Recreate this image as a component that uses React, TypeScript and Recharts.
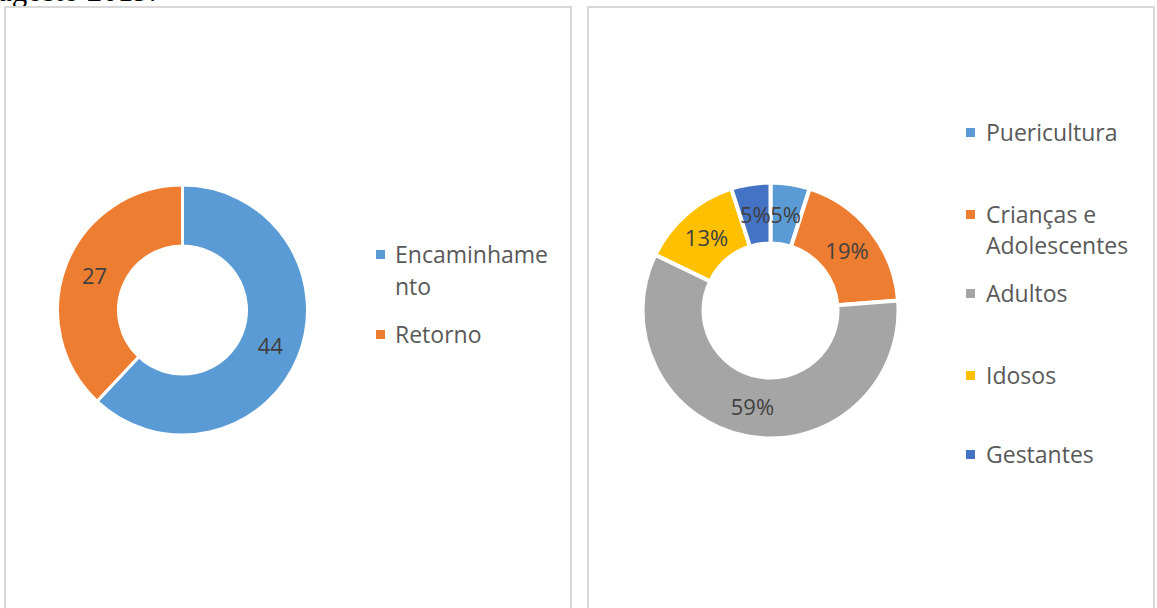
import React from 'react';
import { PieChart, Pie, Cell, Legend } from 'recharts';

// left chart: atendimentos
const tipoNames = ['Encaminhamento', 'Retorno'];
const tipoValues = [44, 27];
const tipoLegendLines = [['Encaminhame', 'nto'], ['Retorno']];
const tipoColors = ['#5b9bd5', '#ed7d31'];

// right chart: público (%)
const publicoNames = ['Puericultura', 'Crianças e Adolescentes', 'Adultos', 'Idosos', 'Gestantes'];
const publicoValues = [5, 19, 59, 13, 5];
const publicoLegendLines = [['Puericultura'], ['Crianças e', 'Adolescentes'], ['Adultos'], ['Idosos'], ['Gestantes']];
const publicoColors = ['#5b9bd5', '#ed7d31', '#a5a5a5', '#ffc000', '#4472c4'];

const tipoData = tipoNames.map((name, i) => ({ name, value: tipoValues[i] }));
const publicoData = publicoNames.map((name, i) => ({ name, value: publicoValues[i] }));

const FONT = '"Open Sans", "Noto Sans", sans-serif';
const RAD = Math.PI / 180;

const makeLabel = (suffix: string) => (props: any) => {
  const { cx, cy, midAngle, innerRadius, outerRadius, value } = props;
  const r = (innerRadius + outerRadius) / 2;
  const x = cx + r * Math.cos(-midAngle * RAD);
  const y = cy + r * Math.sin(-midAngle * RAD);
  return (
    <text x={x} y={y} fill="#404040" fontSize={22} fontFamily={FONT}
      textAnchor="middle" dominantBaseline="central">
      {value}{suffix}
    </text>
  );
};

// legend items laid out like the Excel original (line centres in chart coords)
const makeLegend = (lines: string[][], colors: string[], markerX: number, textX: number, centers: number[][]) => () => (
  <div style={{ position: 'relative', width: 0, height: 0 }}>
    {lines.map((ls, i) => (
      <React.Fragment key={i}>
        <div style={{
          position: 'absolute', left: markerX, top: centers[i][0] - 4, width: 9, height: 9,
          background: colors[i],
        }} />
        {ls.map((t, j) => (
          <div key={j} style={{
            position: 'absolute', left: textX, top: centers[i][j] - 16, height: 32, lineHeight: '32px',
            fontFamily: FONT, fontSize: 23, color: '#595959', whiteSpace: 'nowrap',
          }}>{t}</div>
        ))}
      </React.Fragment>
    ))}
  </div>
);

const panel = (left: number): React.CSSProperties => ({
  position: 'absolute', left, top: 6, width: 568, height: 620,
  border: '2px solid #d9d9d9', boxSizing: 'border-box',
});

export default function App() {
  return (
    <div style={{ position: 'absolute', left: 0, top: 0, width: 1157, height: 608, overflow: 'hidden', background: '#fff' }}>
      <div style={{
        position: 'absolute', left: -2, top: -26, fontFamily: '"Liberation Serif", "Times New Roman", serif',
        fontSize: 31, lineHeight: '34px', color: '#000', whiteSpace: 'nowrap',
      }}>agosto 2019.</div>

      <div style={panel(4)}>
        <PieChart width={564} height={600} margin={{ top: 0, right: 0, bottom: 0, left: 0 }}>
          <Pie data={tipoData} dataKey="value" nameKey="name" cx={176.5} cy={302}
            innerRadius={64} outerRadius={125} startAngle={90} endAngle={-270}
            stroke="#ffffff" strokeWidth={3} label={makeLabel('')} labelLine={false}
            isAnimationActive={false}>
            {tipoData.map((d, i) => <Cell key={d.name} fill={tipoColors[i]} />)}
          </Pie>
          <Legend wrapperStyle={{ left: 0, top: 0, bottom: 'auto' }}
            content={makeLegend(tipoLegendLines, tipoColors, 370, 389, [[246, 278], [326]])} />
        </PieChart>
      </div>

      <div style={panel(587)}>
        <PieChart width={564} height={600} margin={{ top: 0, right: 0, bottom: 0, left: 0 }}>
          <Pie data={publicoData} dataKey="value" nameKey="name" cx={181.5} cy={302.5}
            innerRadius={67} outerRadius={128} startAngle={90} endAngle={-270}
            stroke="#ffffff" strokeWidth={4} label={makeLabel('%')} labelLine={false}
            isAnimationActive={false}>
            {publicoData.map((d, i) => <Cell key={d.name} fill={publicoColors[i]} />)}
          </Pie>
          <Legend wrapperStyle={{ left: 0, top: 0, bottom: 'auto' }}
            content={makeLegend(publicoLegendLines, publicoColors, 377, 397,
              [[124], [206, 237], [285], [367], [446]])} />
        </PieChart>
      </div>
    </div>
  );
}
